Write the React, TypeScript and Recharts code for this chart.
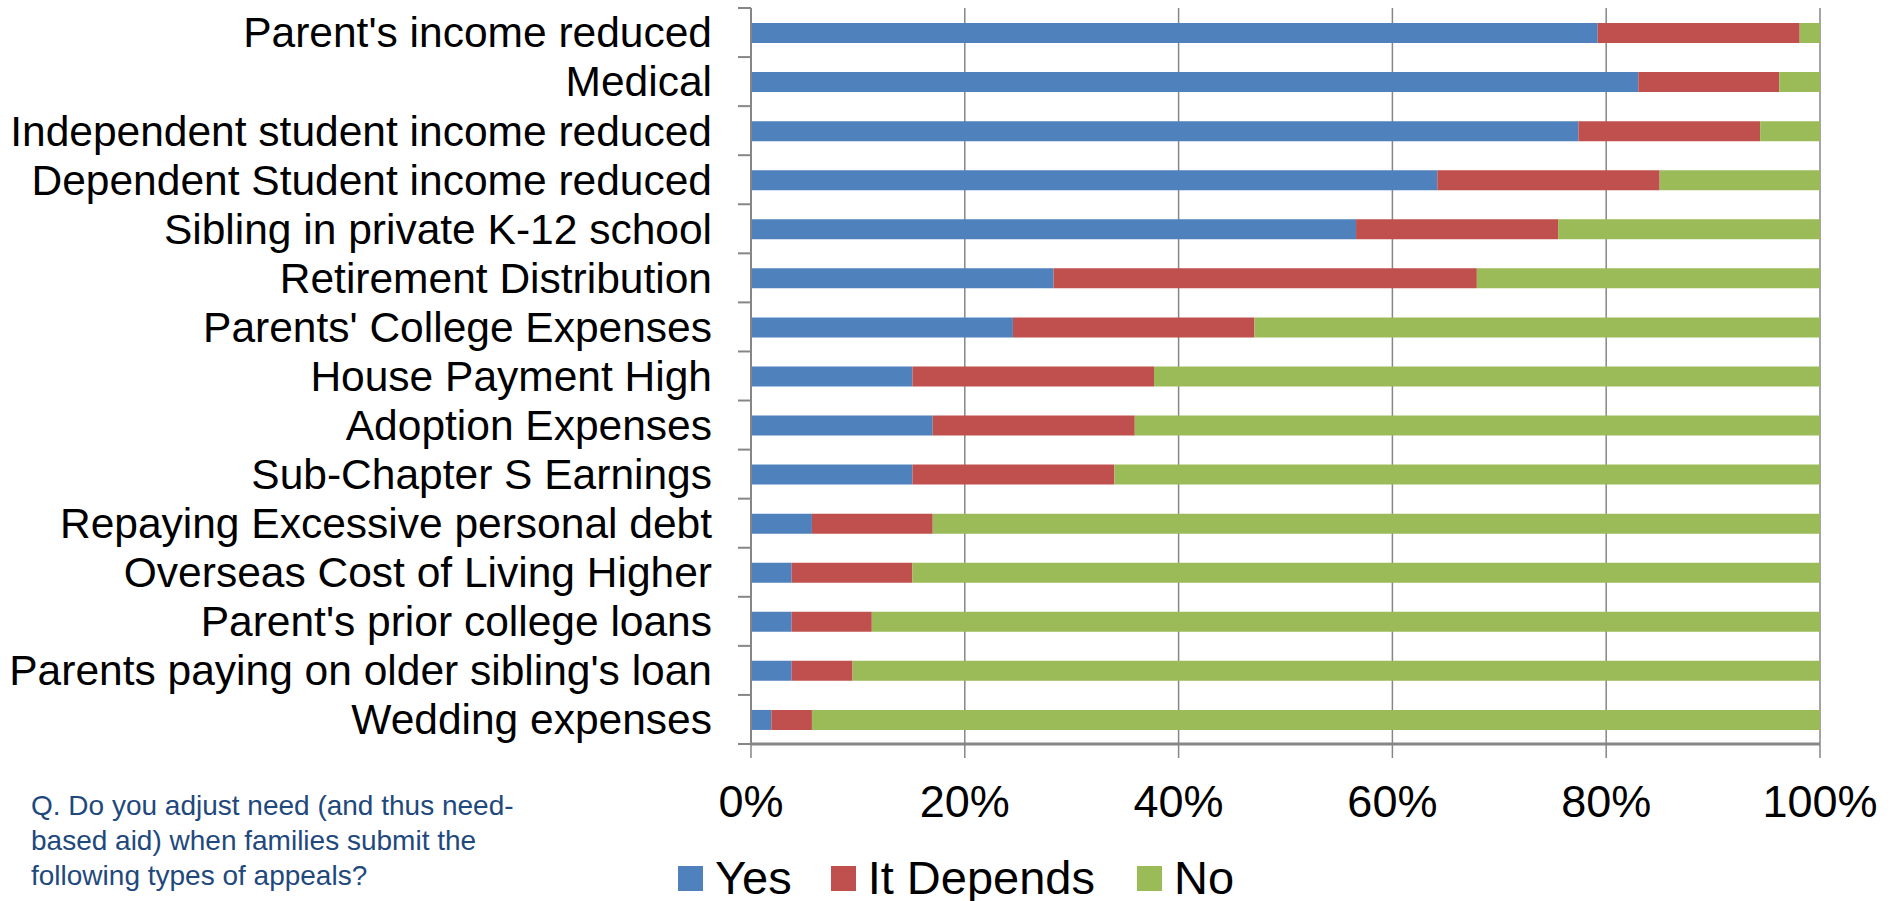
import React from 'react';
import { BarChart, Bar, XAxis, YAxis, CartesianGrid, Legend } from 'recharts';

const categories = [
  "Parent's income reduced",
  'Medical',
  'Independent student income reduced',
  'Dependent Student income reduced',
  'Sibling in private K-12 school',
  'Retirement Distribution',
  "Parents' College Expenses",
  'House Payment High',
  'Adoption Expenses',
  'Sub-Chapter S Earnings',
  'Repaying Excessive personal debt',
  'Overseas Cost of Living Higher',
  "Parent's prior college loans",
  "Parents paying on older sibling's loan",
  'Wedding expenses',
];
const yesValues = [79.2, 83.0, 77.4, 64.2, 56.6, 28.3, 24.5, 15.1, 17.0, 15.1, 5.7, 3.8, 3.8, 3.8, 1.9];
const dependsValues = [18.9, 13.2, 17.0, 20.8, 18.9, 39.6, 22.6, 22.6, 18.9, 18.9, 11.3, 11.3, 7.5, 5.7, 3.8];
const noValues = [1.9, 3.8, 5.6, 15.0, 24.5, 32.1, 52.9, 62.3, 64.1, 66.0, 83.0, 84.9, 88.7, 90.5, 94.3];
const xTicks = [0, 20, 40, 60, 80, 100];
const seriesNames = ['Yes', 'It Depends', 'No'];
const questionLines = [
  'Q. Do you adjust need (and thus need-',
  'based aid) when families submit the',
  'following types of appeals?',
];

const data = categories.map((name, i) => ({
  name,
  yes: yesValues[i],
  depends: dependsValues[i],
  no: noValues[i],
}));

const W = 1902;
const H = 901;
const M_TOP = 8;
const M_RIGHT = 82;
const Y_AXIS_W = 751;
const X_AXIS_H = 157;
const PLOT_H = H - M_TOP - X_AXIS_H;
const BAND = PLOT_H / categories.length;
const Y_TICK_SIZE = 13;
const Y_TICK_MARGIN = 26;
const AXIS_COLOR = '#868686';
const FONT = '"Liberation Sans", Arial, sans-serif';

const COLORS = { yes: '#4F81BD', depends: '#C0504D', no: '#9BBB59' };

const CategoryTick = (props: any) => {
  const { x, y, payload, index } = props;
  const lineX1 = x + Y_TICK_MARGIN;
  const lineX2 = lineX1 + Y_TICK_SIZE;
  const isLast = index === categories.length - 1;
  return (
    <g>
      <line x1={lineX1} x2={lineX2} y1={y - BAND / 2} y2={y - BAND / 2} stroke={AXIS_COLOR} strokeWidth={2} />
      {isLast && (
        <line x1={lineX1} x2={lineX2} y1={y + BAND / 2} y2={y + BAND / 2} stroke={AXIS_COLOR} strokeWidth={2} />
      )}
      <text x={x} y={y} dy="0.35em" textAnchor="end" fontSize={42.5} fill="#000" fontFamily={FONT}>
        {payload.value}
      </text>
    </g>
  );
};

const legendGaps = [39, 42, 0];

const LegendContent = (props: any) => {
  const items = [...(props.payload || [])].sort(
    (a: any, b: any) => seriesNames.indexOf(a.value) - seriesNames.indexOf(b.value),
  );
  return (
    <div style={{ display: 'flex', alignItems: 'center', fontSize: 47, lineHeight: '54px', color: '#000', fontFamily: FONT, whiteSpace: 'nowrap' }}>
      {items.map((entry: any, i: number) => (
        <div key={entry.value} style={{ display: 'flex', alignItems: 'center', marginRight: legendGaps[i] }}>
          <span style={{ display: 'inline-block', width: 25, height: 25, background: entry.color, marginRight: 12 }} />
          <span>{entry.value}</span>
        </div>
      ))}
    </div>
  );
};

export default function App() {
  return (
    <div style={{ position: 'absolute', left: 0, top: 0, width: W, height: H, background: '#fff', fontFamily: FONT }}>
      <BarChart
        width={W}
        height={H}
        data={data}
        layout="vertical"
        margin={{ top: M_TOP, right: M_RIGHT, bottom: 0, left: 0 }}
        barCategoryGap="0%"
      >
        <CartesianGrid horizontal={false} vertical stroke={AXIS_COLOR} strokeWidth={1.5} />
        <XAxis
          type="number"
          domain={[0, 100]}
          ticks={xTicks}
          tickFormatter={(v: number) => `${v}%`}
          height={X_AXIS_H}
          tickSize={14}
          tickMargin={27}
          tick={{ fontSize: 45, fill: '#000', fontFamily: FONT }}
          tickLine={{ stroke: AXIS_COLOR, strokeWidth: 1.5 }}
          axisLine={{ stroke: AXIS_COLOR, strokeWidth: 3 }}
          interval={0}
        />
        <YAxis
          type="category"
          dataKey="name"
          width={Y_AXIS_W}
          tickSize={Y_TICK_SIZE}
          tickMargin={Y_TICK_MARGIN}
          tickLine={false}
          tick={<CategoryTick />}
          axisLine={{ stroke: AXIS_COLOR, strokeWidth: 2 }}
          interval={0}
        />
        <Legend
          layout="vertical"
          align="center"
          verticalAlign="middle"
          content={<LegendContent />}
          wrapperStyle={{ left: 678, top: 851, width: 'auto', height: 'auto' }}
        />
        <Bar dataKey="yes" name={seriesNames[0]} stackId="a" fill={COLORS.yes} barSize={20} isAnimationActive={false} />
        <Bar dataKey="depends" name={seriesNames[1]} stackId="a" fill={COLORS.depends} barSize={20} isAnimationActive={false} />
        <Bar dataKey="no" name={seriesNames[2]} stackId="a" fill={COLORS.no} barSize={20} isAnimationActive={false} />
      </BarChart>
      <div
        style={{
          position: 'absolute',
          left: 31,
          top: 788,
          fontSize: 28,
          lineHeight: '35px',
          color: '#1F497D',
          fontFamily: FONT,
          whiteSpace: 'nowrap',
        }}
      >
        {questionLines.map((l) => (
          <div key={l}>{l}</div>
        ))}
      </div>
    </div>
  );
}
